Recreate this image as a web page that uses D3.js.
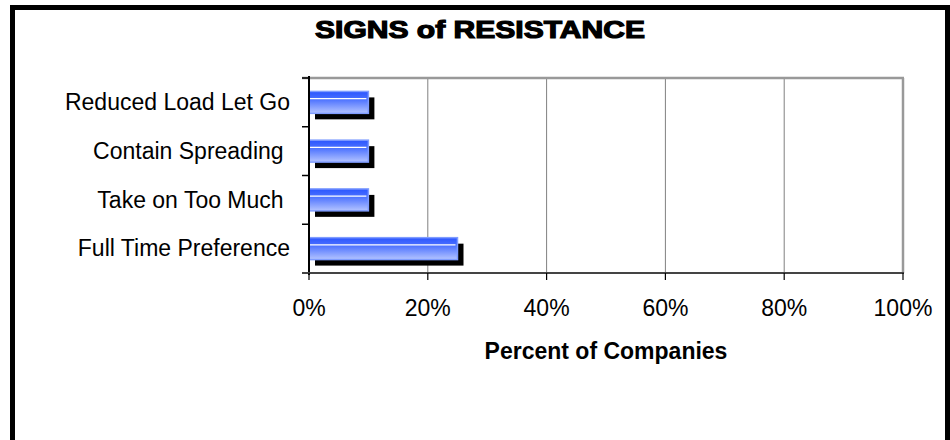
<!DOCTYPE html>
<html>
<head>
<meta charset="utf-8">
<script src="https://cdn.jsdelivr.net/npm/d3@7"></script>
<style>
  html, body { margin: 0; padding: 0; background: #fff; }
  svg { display: block; }
  text { font-family: "Liberation Sans", Arial, sans-serif; fill: #000; }
</style>
</head>
<body>
<svg id="chart" width="950" height="440"></svg>
<script>
// Survey results: share of companies showing each sign of resistance
const categories = ["Reduced Load Let Go", "Contain Spreading ", "Take on Too Much ", "Full Time Preference"];
const values = [10, 10, 10, 25];
const xTicks = [0, 20, 40, 60, 80, 100];
const tickLabels = ["0%", "20%", "40%", "60%", "80%", "100%"];

const svg = d3.select("#chart");
const plot = { left: 309, right: 903, top: 78, bottom: 273 };

// outer frame
svg.append("rect")
  .attr("x", 12.5).attr("y", 7.5)
  .attr("width", 935).attr("height", 460)
  .attr("fill", "none").attr("stroke", "#000").attr("stroke-width", 5);

// title
svg.append("text")
  .attr("x", 480).attr("y", 38)
  .attr("text-anchor", "middle")
  .attr("font-size", 24.5).attr("font-weight", 900)
  .attr("textLength", 330).attr("lengthAdjust", "spacingAndGlyphs")
  .style("stroke", "#000").style("stroke-width", 1.2)
  .text("SIGNS of RESISTANCE");

const x = d3.scaleLinear().domain([0, 100]).range([plot.left, plot.right]);
const y = d3.scaleBand().domain(categories).range([plot.top, plot.bottom]).paddingInner(0.55).paddingOuter(0.275);
const yOuter = d3.scaleBand().domain(categories).range([plot.top, plot.bottom]);

// vertical gridlines
svg.append("g").selectAll("line")
  .data(xTicks.slice(1, -1))
  .join("line")
  .attr("x1", d => x(d)).attr("x2", d => x(d))
  .attr("y1", plot.top).attr("y2", plot.bottom)
  .attr("stroke", "#808080").attr("stroke-width", 1);

// plot area border (top and right)
svg.append("line")
  .attr("x1", plot.left - 7).attr("x2", plot.right + 1)
  .attr("y1", plot.top).attr("y2", plot.top)
  .attr("stroke", "#999").attr("stroke-width", 2.5);
svg.append("line")
  .attr("x1", plot.right).attr("x2", plot.right)
  .attr("y1", plot.top).attr("y2", plot.bottom)
  .attr("stroke", "#999").attr("stroke-width", 2.5);

// bar fill gradient
const defs = svg.append("defs");
const grad = defs.append("linearGradient")
  .attr("id", "barFill").attr("x1", 0).attr("x2", 0).attr("y1", 0).attr("y2", 1);
grad.append("stop").attr("offset", "0%").attr("stop-color", "#2a55ff");
grad.append("stop").attr("offset", "35%").attr("stop-color", "#4a70ff");
grad.append("stop").attr("offset", "100%").attr("stop-color", "#b4c4ff");

const bars = svg.append("g").selectAll("g")
  .data(categories.map((c, i) => ({ c, v: values[i] })))
  .join("g");

// drop shadows
bars.append("rect")
  .attr("x", x(0) + 6)
  .attr("y", d => y(d.c) + 6)
  .attr("width", d => x(d.v) - x(0))
  .attr("height", y.bandwidth())
  .attr("fill", "#000");

// bars
bars.append("rect")
  .attr("x", x(0))
  .attr("y", d => y(d.c))
  .attr("width", d => x(d.v) - x(0))
  .attr("height", y.bandwidth())
  .attr("fill", "url(#barFill)")
  .attr("stroke", "#7f9cff").attr("stroke-width", 1.5);

// highlight streak
bars.append("line")
  .attr("x1", x(0) + 1)
  .attr("x2", d => x(d.v) - 2)
  .attr("y1", d => y(d.c) + y.bandwidth() * 0.33)
  .attr("y2", d => y(d.c) + y.bandwidth() * 0.33)
  .attr("stroke", "#ffffff").attr("stroke-width", 1.2);

// left axis with ticks between categories
const yBounds = categories.map(c => yOuter(c)).concat([plot.bottom]);
svg.append("g").selectAll("line")
  .data(yBounds)
  .join("line")
  .attr("x1", plot.left - 7).attr("x2", plot.left)
  .attr("y1", d => d).attr("y2", d => d)
  .attr("stroke", "#000").attr("stroke-width", 1.5);
svg.append("line")
  .attr("x1", plot.left).attr("x2", plot.left)
  .attr("y1", plot.top - 2).attr("y2", plot.bottom + 2)
  .attr("stroke", "#000").attr("stroke-width", 2);

// category labels
svg.append("g").selectAll("text")
  .data(categories)
  .join("text")
  .attr("x", 290)
  .attr("y", d => yOuter(d) + yOuter.bandwidth() / 2 + 7.8)
  .attr("text-anchor", "end")
  .attr("font-size", 23)
  .style("white-space", "pre")
  .text(d => d);

// bottom axis
svg.append("line")
  .attr("x1", plot.left - 7).attr("x2", plot.right + 1)
  .attr("y1", plot.bottom).attr("y2", plot.bottom)
  .attr("stroke", "#444").attr("stroke-width", 2);
svg.append("g").selectAll("line")
  .data(xTicks)
  .join("line")
  .attr("x1", d => x(d)).attr("x2", d => x(d))
  .attr("y1", plot.bottom).attr("y2", plot.bottom + 7)
  .attr("stroke", "#000").attr("stroke-width", 1.2);
svg.append("g").selectAll("text")
  .data(xTicks)
  .join("text")
  .attr("x", d => x(d))
  .attr("y", 316)
  .attr("text-anchor", "middle")
  .attr("font-size", 23)
  .text((d, i) => tickLabels[i]);

// axis title
svg.append("text")
  .attr("x", 606).attr("y", 359)
  .attr("text-anchor", "middle")
  .attr("font-size", 23).attr("font-weight", "bold")
  .text("Percent of Companies");
</script>
</body>
</html>
